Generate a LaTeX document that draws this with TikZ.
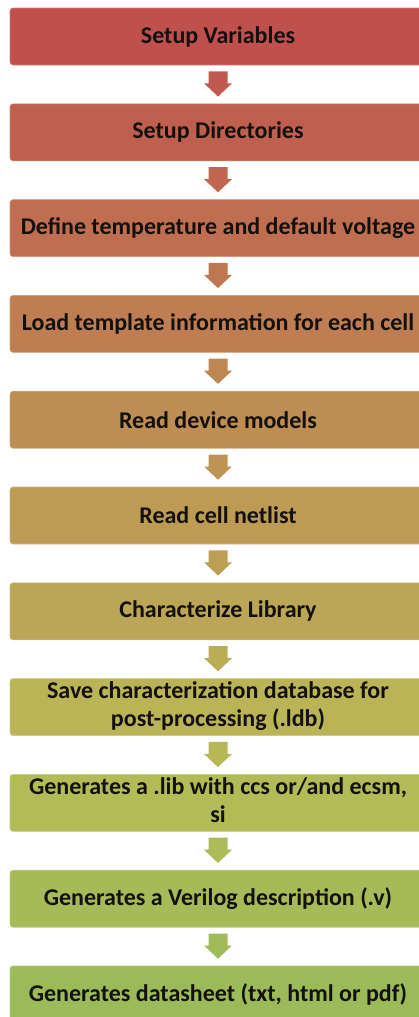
\documentclass[tikz,border=0pt]{standalone}
\usepackage{fontspec}
\setmainfont{Carlito}
\usetikzlibrary{calc}

% step colours, red through to green
\definecolor{c0}{RGB}{192,80,77}
\definecolor{c1}{RGB}{191,96,78}
\definecolor{c2}{RGB}{191,111,79}
\definecolor{c3}{RGB}{190,126,81}
\definecolor{c4}{RGB}{190,141,82}
\definecolor{c5}{RGB}{189,155,83}
\definecolor{c6}{RGB}{186,166,84}
\definecolor{c7}{RGB}{186,180,86}
\definecolor{c8}{RGB}{178,188,87}
\definecolor{c9}{RGB}{166,187,88}
\definecolor{c10}{RGB}{155,187,89}
\definecolor{txt}{RGB}{20,16,14}

% two centred lines, set a little low in their box
\newcommand{\twolines}[2]{\raisebox{-3pt}{\begin{tabular}{@{}c@{}}#1\\#2\end{tabular}}}

\tikzset{
  stepbox/.style={fill=#1, draw=#1!75!white, line width=0.6pt,
    rounded corners=3pt, minimum width=416pt, minimum height=57pt,
    inner sep=0pt, align=center, text=txt,
    font=\fontsize{24}{28}\selectfont\bfseries}
}

\begin{document}
\begin{tikzpicture}[x=1pt,y=-1pt]
\useasboundingbox (0,0) rectangle (419,1017);
\clip (0,0) rectangle (419,1017);

\node[stepbox=c0]  (b0)  at (218,36.5)  {Setup Variables};
\node[stepbox=c1]  (b1)  at (218,132.3) {Setup Directories};
\node[stepbox=c2]  (b2)  at (218,228.1) {Define temperature and default voltage};
\node[stepbox=c3]  (b3)  at (218,323.9) {Load template information for each cell};
\node[stepbox=c4]  (b4)  at (218,419.7) {Read device models};
\node[stepbox=c5]  (b5)  at (218,515.5) {Read cell netlist};
\node[stepbox=c6]  (b6)  at (218,611.3) {Characterize Library};
\node[stepbox=c7]  (b7)  at (218,707.1) {\twolines{Save characterization database for}{post-processing (.ldb)}};
\node[stepbox=c8]  (b8)  at (218,802.9) {\twolines{Generates a .lib with ccs or/and ecsm,}{si}};
\node[stepbox=c9]  (b9)  at (218,898.7) {Generates a Verilog description (.v)};
\node[stepbox=c10] (b10) at (218,994.5) {Generates datasheet (txt, html or pdf)};

% block arrows between consecutive steps
\foreach \i/\j in {0/1,1/2,2/3,3/4,4/5,5/6,6/7,7/8,8/9,9/10}{
  \fill[c\i!50!c\j]
    ($(b\i.south)+(-9.5,6)$) -- ($(b\i.south)+(9.5,6)$) --
    ($(b\i.south)+(9.5,18)$) -- ($(b\i.south)+(14,18)$) --
    ($(b\j.north)+(0,-7)$) --
    ($(b\i.south)+(-14,18)$) -- ($(b\i.south)+(-9.5,18)$) -- cycle;
}
\end{tikzpicture}
\end{document}
